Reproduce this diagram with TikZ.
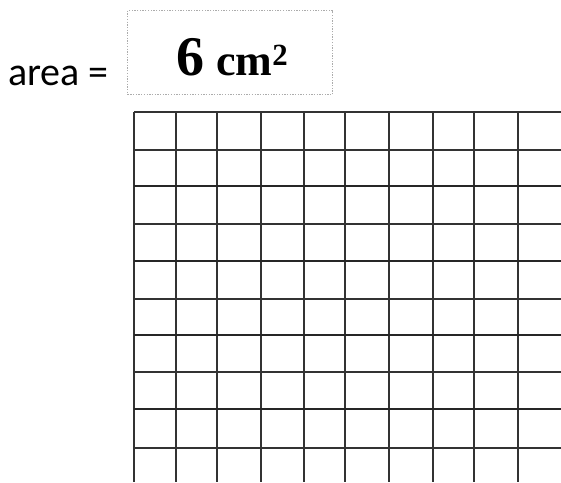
\documentclass[tikz,border=0pt]{standalone}
\usepackage{fontspec}
\setmainfont{Liberation Serif}
\newfontfamily\labfont{Carlito}
\begin{document}
\begin{tikzpicture}[x=1pt,y=-1pt,
  gridline/.style={line width=1.5pt, draw=black!80},
  thickline/.style={line width=2.1pt, draw=black!85},
  answerbox/.style={draw=gray!65, dash pattern=on 1.3pt off 1.4pt, line width=1.3pt, inner sep=0pt, anchor=north west}]
\useasboundingbox (0,0) rectangle (561,482);
\fill[white] (0,0) rectangle (561,482);
\node[font=\labfont\fontsize{40}{44}\selectfont, anchor=base west, inner sep=0pt] (lab) at (8,85) {area =};
\node[answerbox, minimum width=205pt, minimum height=84pt] (box) at (127,10) {};
\node[font=\bfseries\fontsize{56}{60}\selectfont, anchor=base west, inner sep=0pt] (val) at (176,75) {6\hspace{12pt}{\fontsize{44}{48}\selectfont cm\textsuperscript{2}}};
\foreach \x in {134,176,217,261,304,345,389,433,474,518}
  \draw[gridline] (\x,112) -- (\x,482);
\foreach \y in {112,150,224,299,372,448}
  \draw[gridline] (134,\y) -- (561,\y);
\foreach \y in {186,261,335,409}
  \draw[thickline] (134,\y) -- (561,\y);
\end{tikzpicture}
\end{document}
